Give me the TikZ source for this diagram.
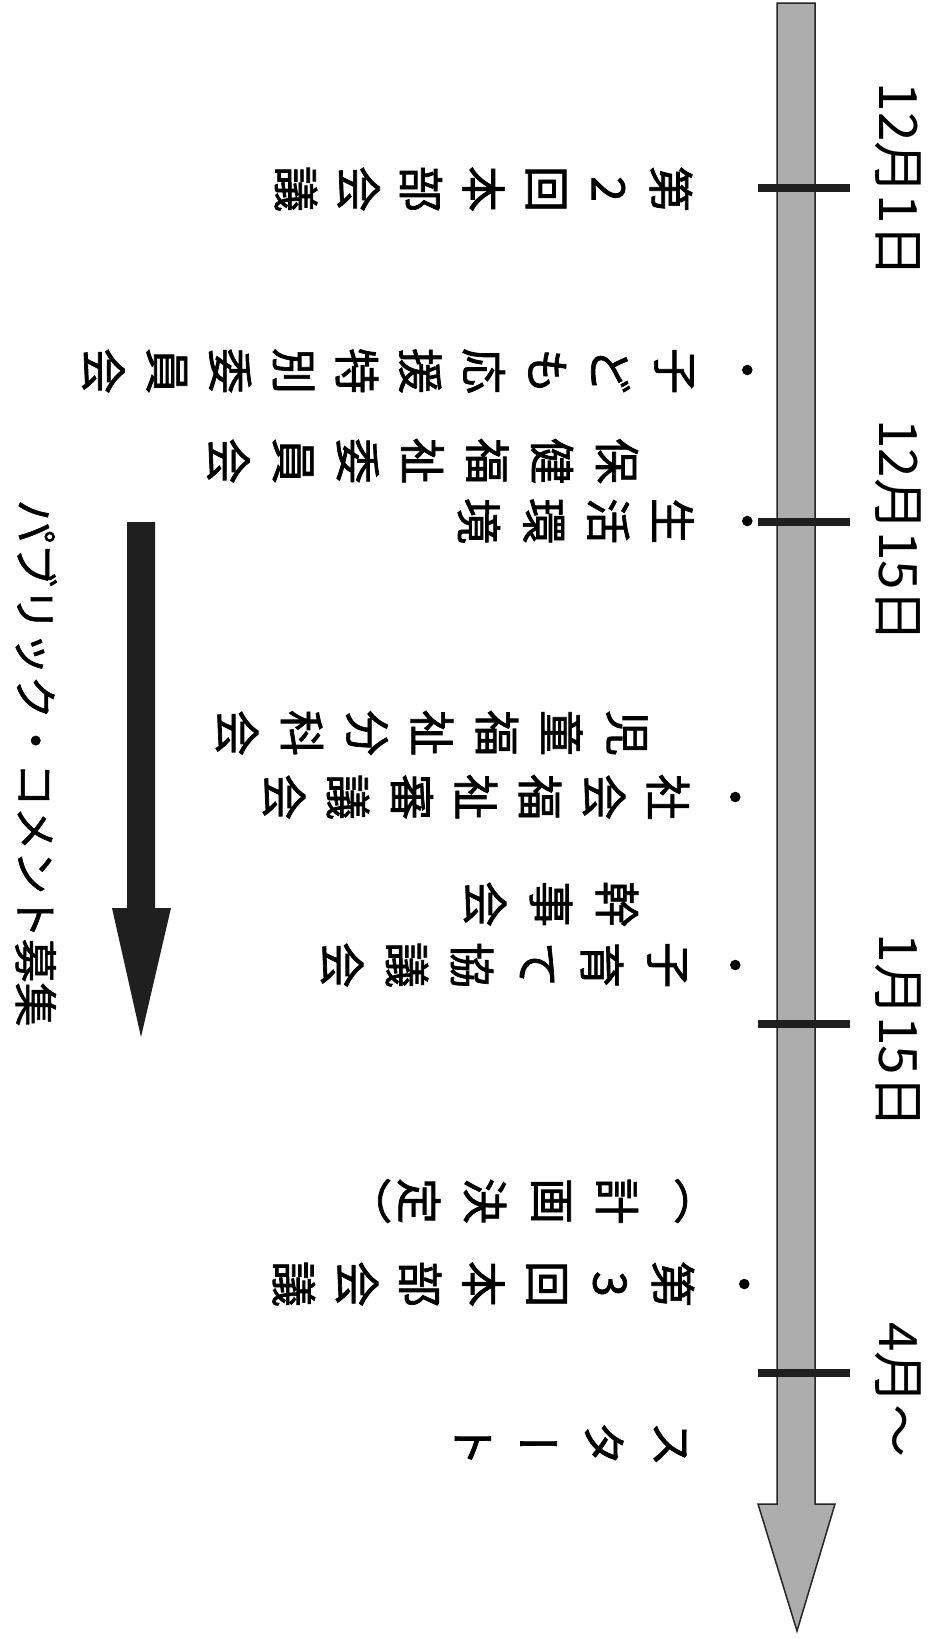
\documentclass[tikz,border=0pt]{standalone}
\usepackage{fontspec}
\newfontfamily\jp{Noto Sans CJK JP}
\newfontfamily\jpb[FakeBold=1.2]{Noto Sans CJK JP}
\newfontfamily\jpv[RawFeature=+vert,FakeBold=1.5]{Noto Sans CJK JP}
\tikzset{
  ch/.style={font=\jpv\fontsize{46}{46}\selectfont, rotate=-90, inner sep=0pt},
  datelbl/.style={font=\jp\fontsize{53}{53}\selectfont, rotate=-90, inner sep=0pt},
  pclbl/.style={font=\jpb\fontsize{44}{44}\selectfont, rotate=-90, inner sep=0pt},
  timeline/.style={fill=black!32, draw=black!85, line width=1.5pt, line join=miter},
  tickmark/.style={draw=black!88, line width=8pt},
  pcarrow/.style={fill=black!88, draw=none},
}
\newcommand\charrow[5]{%
  \foreach \c [count=\i] in {#5}{\node[ch] (#1\i) at ({#2-(\i-1)*#4},#3) {\c};}}
\begin{document}
\begin{tikzpicture}[x=1pt,y=-1pt]
\useasboundingbox (0,0) rectangle (937,1639);
% main timeline arrow
\draw[timeline] (777,3) -- (815,3) -- (815,1504) -- (835,1504) -- (797,1631)
  -- (758,1504) -- (777,1504) -- cycle;
% ticks
\coordinate (t1a) at (758,187.5); \coordinate (t1b) at (850,187.5);
\coordinate (t2a) at (758,522);   \coordinate (t2b) at (850,522);
\coordinate (t3a) at (758,1024);  \coordinate (t3b) at (850,1024);
\coordinate (t4a) at (758,1373);  \coordinate (t4b) at (850,1373);
\draw[tickmark] (t1a) -- (t1b);
\draw[tickmark] (t2a) -- (t2b);
\draw[tickmark] (t3a) -- (t3b);
\draw[tickmark] (t4a) -- (t4b);
% dates
\node[datelbl] (d1) at (898,180) {12月1日};
\node[datelbl] (d2) at (898,531) {12月15日};
\node[datelbl] (d3) at (898,1031) {1月15日};
\node[datelbl] (d4) at (898,1390) {4月〜};
% events
\charrow{A}{671}{189}{62.5}{第,2,回,本,部,会,議}
\node[ch] (Bb) at (741,370) {・};
\charrow{B}{674}{371}{63.4}{子,ど,も,応,援,特,別,委,員,会}
\charrow{C}{617}{461}{64.8}{保,健,福,祉,委,員,会}
\node[ch] (Db) at (741,521) {・};
\charrow{D}{673}{521}{64.7}{生,活,環,境}
\node[ch] (Eb) at (729,797) {・};
\charrow{E}{668}{797}{64}{社,会,福,祉,審,議,会}
\charrow{F}{627}{733}{65}{児,童,福,祉,分,科,会}
\node[ch] (Gb) at (729,965) {・};
\charrow{G}{667}{965}{65}{子,育,て,協,議,会}
\charrow{H}{617}{904}{66}{幹,事,会}
\node[ch] (Ib) at (738,1284) {・};
\charrow{I}{673}{1284}{63.2}{第,3,回,本,部,会,議}
\node[ch] (Jo) at (681,1201) {（};
\charrow{J}{617}{1201}{66}{計,画,決,定}
\node[ch] (Jc) at (371,1201) {）};
\charrow{K}{670}{1444}{65.7}{ス,タ,ー,ト}
% public comment arrow
\fill[pcarrow] (127,522) -- (155,522) -- (155,908) -- (171,908) -- (141,1037)
  -- (112,908) -- (127,908) -- cycle;
\node[pclbl] (pc) at (36,763) {パブリック・コメント募集};
\end{tikzpicture}
\end{document}
